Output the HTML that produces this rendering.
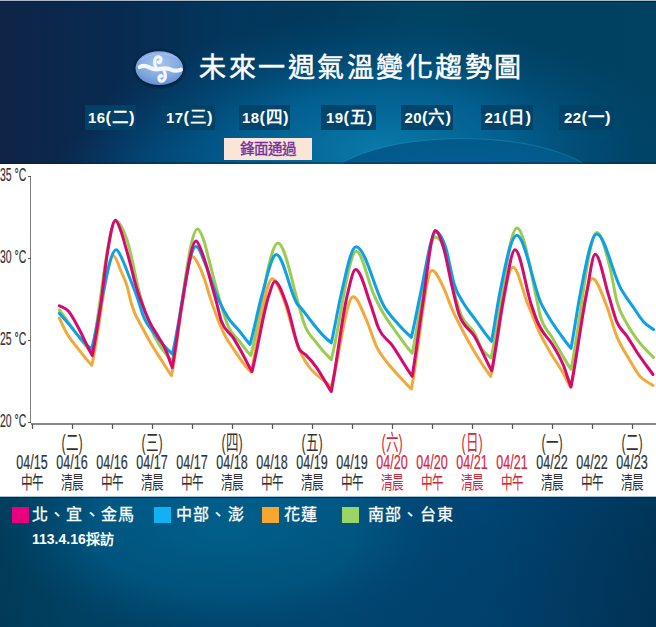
<!DOCTYPE html>
<html lang="zh-TW"><head><meta charset="utf-8">
<style>
html,body{margin:0;padding:0;}
body{width:656px;height:627px;position:relative;overflow:hidden;font-family:"Liberation Sans",sans-serif;background:#063a5e;}
.hdr{position:absolute;left:0;top:0;width:656px;height:164px;}
.topline{position:absolute;left:0;top:0;width:656px;height:1px;background:#a9b9c9;}
.topline2{position:absolute;left:0;top:1px;width:656px;height:1px;background:#0a2036;}
.title{position:absolute;left:199px;top:50px;font-size:27px;line-height:36px;color:#fff;white-space:nowrap;letter-spacing:2.5px;-webkit-text-stroke:0.5px #fff;}
.day{position:absolute;top:105px;height:25px;letter-spacing:0.5px;text-indent:2px;background:rgba(2,66,104,0.92);color:#fff;font-weight:bold;font-size:15px;line-height:25px;text-align:center;white-space:nowrap;}
.front{position:absolute;left:224px;top:138px;width:88px;height:22px;background:#fbe5d6;color:#7030a0;font-size:14.5px;line-height:22px;text-align:center;-webkit-text-stroke:0.35px #7030a0;letter-spacing:0px;}
.chart{position:absolute;left:0;top:164px;width:656px;height:332px;background:#fff;}
.ftr{position:absolute;left:0;top:497px;width:656px;height:130px;}
.leg{position:absolute;top:507px;width:17px;height:16px;}
.legt{position:absolute;top:503px;font-size:16px;line-height:24px;color:#fff;white-space:nowrap;letter-spacing:1.2px;-webkit-text-stroke:0.3px #fff;}
.src{position:absolute;left:32px;top:530px;font-size:14px;line-height:18px;color:#fff;font-weight:bold;white-space:nowrap;}
</style></head><body>
<svg class="hdr" width="656" height="164">
 <defs>
  <linearGradient id="hb" x1="0" y1="0" x2="656" y2="0" gradientUnits="userSpaceOnUse">
   <stop offset="0" stop-color="#0f2447"/><stop offset="0.18" stop-color="#082a50"/><stop offset="0.34" stop-color="#03365c"/><stop offset="0.49" stop-color="#003a5c"/><stop offset="0.64" stop-color="#004464"/><stop offset="0.8" stop-color="#004060"/><stop offset="1" stop-color="#004262"/>
  </linearGradient>
  <radialGradient id="hg" cx="380" cy="150" r="300" gradientUnits="userSpaceOnUse" gradientTransform="translate(380 150) scale(1 0.45) translate(-380 -150)">
   <stop offset="0" stop-color="#0a7aaa" stop-opacity="1"/><stop offset="0.45" stop-color="#036496" stop-opacity="0.85"/><stop offset="1" stop-color="#004a7a" stop-opacity="0"/>
  </radialGradient>
  <radialGradient id="hg2" cx="200" cy="175" r="150" gradientUnits="userSpaceOnUse" gradientTransform="translate(200 175) scale(1 0.5) translate(-200 -175)">
   <stop offset="0" stop-color="#024a80" stop-opacity="0.9"/><stop offset="1" stop-color="#024a80" stop-opacity="0"/>
  </radialGradient>
  <radialGradient id="he" cx="462" cy="189" r="140" gradientUnits="userSpaceOnUse" gradientTransform="translate(462 189) scale(1 0.36) translate(-462 -189)">
   <stop offset="0" stop-color="#02609a"/><stop offset="1" stop-color="#025a8b"/>
  </radialGradient>
 </defs>
 <rect width="656" height="164" fill="url(#hb)"/>
 <rect width="656" height="164" fill="url(#hg2)"/>
 <rect width="656" height="164" fill="url(#hg)"/>
 <ellipse cx="462" cy="189" rx="140" ry="50" fill="none" stroke="#1a88b8" stroke-width="2" opacity="0.5"/>
 <ellipse cx="462" cy="189" rx="140" ry="50" fill="url(#he)"/>
</svg>
<div class="topline"></div><div style="position:absolute;left:0;top:162px;width:656px;height:2px;background:rgba(10,30,50,0.35)"></div><div class="topline2"></div>
<svg style="position:absolute;left:0;top:0" width="656" height="164">
 <defs>
  <radialGradient id="lg" cx="0.5" cy="0.35" r="0.75">
   <stop offset="0" stop-color="#a8c6ee"/><stop offset="0.55" stop-color="#82a9e0"/><stop offset="1" stop-color="#5a87c8"/>
  </radialGradient>
  <radialGradient id="lsh" cx="0.5" cy="0.5" r="0.5">
   <stop offset="0.75" stop-color="#021a34" stop-opacity="1"/><stop offset="1" stop-color="#021c38" stop-opacity="0"/>
  </radialGradient>
 </defs>
 <ellipse cx="159.5" cy="68.8" rx="28" ry="21" fill="url(#lsh)"/>
 <ellipse cx="159.3" cy="68.2" rx="23.8" ry="16.9" fill="url(#lg)"/>
 <path d="M141,60 C148,53 170,52 178,59" stroke="#c8dcf6" stroke-width="1.2" fill="none" opacity="0.35"/>
 <g fill="none" stroke="#f2f6fd" stroke-linecap="round" stroke-linejoin="round">
  <path d="M139.8,67 C142.5,65.6 146,65.8 149,67.3 C152,68.8 155,69.8 158,69.3 L162,68.6 C165,68 168,68.3 171,69.6 C174,70.9 177.5,71 180.8,69.6" stroke-width="4.2"/>
  <path d="M156.5,68.5 C154.5,65.5 154,61 155.5,58.5 C157,56 160.5,56.3 161,59.3 C161.3,61.8 159.3,63 158.2,62" stroke-width="3.3"/>
  <path d="M163.5,69.5 C165.5,72.5 166,77 164.5,79.5 C163,82 159.5,81.7 159,78.7 C158.7,76.2 160.7,75 161.8,76" stroke-width="3.3"/>
 </g>
</svg>
<div class="title">未來一週氣溫變化趨勢圖</div>
<div class="day" style="left:85px;width:51px">16<span style="font-size:16.5px">(二)</span></div>
<div class="day" style="left:162px;width:53px">17<span style="font-size:16.5px">(三)</span></div>
<div class="day" style="left:239px;width:51px">18<span style="font-size:16.5px">(四)</span></div>
<div class="day" style="left:321px;width:55px">19<span style="font-size:16.5px">(五)</span></div>
<div class="day" style="left:401px;width:52px">20<span style="font-size:16.5px">(六)</span></div>
<div class="day" style="left:481px;width:52px">21<span style="font-size:16.5px">(日)</span></div>
<div class="day" style="left:559px;width:55px">22<span style="font-size:16.5px">(一)</span></div>
<div class="front">鋒面通過</div>
<div class="chart"></div>
<svg style="position:absolute;left:0;top:0" width="656" height="627">
 <g stroke="#555" stroke-width="1" fill="none">
  <line x1="30.5" y1="176" x2="30.5" y2="423" stroke="#808080"/>
  <line x1="31" y1="424" x2="656" y2="424" stroke="#8a8a8a" stroke-width="2"/>
  <line x1="28" y1="176.5" x2="31" y2="176.5"/>
  <line x1="28" y1="258.5" x2="31" y2="258.5"/>
  <line x1="28" y1="340.5" x2="31" y2="340.5"/>
  <line x1="28" y1="422.5" x2="31" y2="422.5"/>
 </g>
 <g stroke="#555" stroke-width="1.2">
  <line x1="32.5" y1="424" x2="32.5" y2="429"/><line x1="72.5" y1="424" x2="72.5" y2="429"/><line x1="112.5" y1="424" x2="112.5" y2="429"/><line x1="152.5" y1="424" x2="152.5" y2="429"/><line x1="192.5" y1="424" x2="192.5" y2="429"/><line x1="232.5" y1="424" x2="232.5" y2="429"/><line x1="272.5" y1="424" x2="272.5" y2="429"/><line x1="312.5" y1="424" x2="312.5" y2="429"/><line x1="352.5" y1="424" x2="352.5" y2="429"/><line x1="392.5" y1="424" x2="392.5" y2="429"/><line x1="432.5" y1="424" x2="432.5" y2="429"/><line x1="472.5" y1="424" x2="472.5" y2="429"/><line x1="512.5" y1="424" x2="512.5" y2="429"/><line x1="552.5" y1="424" x2="552.5" y2="429"/><line x1="592.5" y1="424" x2="592.5" y2="429"/><line x1="632.5" y1="424" x2="632.5" y2="429"/>
 </g>
 <g font-size="18" fill="#333" stroke="#333" stroke-width="0.2" font-family="Liberation Sans, sans-serif">
  <text transform="translate(0,181) scale(0.58,1)">35 °C</text>
  <text transform="translate(0,263) scale(0.58,1)">30 °C</text>
  <text transform="translate(0,345) scale(0.58,1)">25 °C</text>
  <text transform="translate(0,427) scale(0.58,1)">20 °C</text>
 </g>
 <g fill="none" stroke-width="3" stroke-linejoin="round" stroke-linecap="round">
  <path d="M59.30,310.00 C70.13,324.33 80.97,340.82 91.80,353.00 C99.87,315.60 107.93,221.00 116.00,221.00 C119.67,221.00 123.33,229.46 127.00,240.00 C131.33,252.46 135.67,279.44 140.00,295.00 C143.33,306.97 146.67,317.20 150.00,326.00 C157.43,345.62 164.87,351.80 172.30,362.00 C180.70,324.32 189.10,229.00 197.50,229.00 C199.50,229.00 201.50,233.87 203.50,239.50 C205.10,244.00 206.70,250.98 208.30,257.10 C209.90,263.22 211.50,270.07 213.10,276.20 C214.90,283.10 216.70,289.77 218.50,296.00 C221.90,307.77 225.30,320.00 228.70,327.40 C232.03,334.65 235.37,336.04 238.70,340.30 C242.73,345.46 246.77,351.27 250.80,355.60 C259.83,323.70 268.87,243.00 277.90,243.00 C284.80,243.00 291.70,281.60 298.60,304.70 C300.40,310.73 302.20,318.13 304.00,323.30 C308.10,335.08 312.20,336.97 316.30,342.60 C321.30,349.46 326.30,354.78 331.30,359.60 C339.67,328.92 348.03,251.30 356.40,251.30 C362.27,251.30 368.13,282.29 374.00,295.00 C376.63,300.71 379.27,306.21 381.90,311.00 C386.17,318.76 390.43,323.95 394.70,330.00 C400.53,338.27 406.37,346.63 412.20,353.20 C419.90,320.25 427.60,236.90 435.30,236.90 C438.53,236.90 441.77,241.27 445.00,250.00 C447.67,257.20 450.33,276.17 453.00,287.00 C455.33,296.48 457.67,305.23 460.00,312.00 C465.00,326.51 470.00,324.01 475.00,334.00 C477.10,338.20 479.20,344.32 481.30,348.00 C484.57,353.72 487.83,355.17 491.10,358.00 C499.73,321.19 508.37,228.10 517.00,228.10 C523.67,228.10 530.33,269.91 537.00,300.70 C538.00,305.32 539.00,311.27 540.00,315.00 C543.90,329.53 547.80,329.82 551.70,336.80 C555.60,343.78 559.50,350.40 563.40,356.90 C565.93,361.12 568.47,365.79 571.00,369.30 C579.60,330.54 588.20,232.50 596.80,232.50 C601.37,232.50 605.93,250.62 610.50,270.00 C612.60,278.91 614.70,292.90 616.80,301.10 C620.23,314.51 623.67,317.49 627.10,324.00 C631.27,331.89 635.43,337.32 639.60,342.70 C644.23,348.69 648.87,352.57 653.50,357.50" stroke="#9acb52"/>
  <path d="M59.30,318.00 C61.53,322.67 63.77,327.90 66.00,332.00 C70.00,339.35 74.00,343.40 78.00,348.60 C82.60,354.58 87.20,360.50 91.80,365.20 C99.03,334.18 106.27,255.70 113.50,255.70 C115.97,255.70 118.43,265.35 120.90,271.00 C123.03,275.89 125.17,279.41 127.30,286.90 C128.63,291.58 129.97,298.64 131.30,303.50 C135.17,317.59 139.03,321.17 142.90,328.80 C145.80,334.52 148.70,339.65 151.60,344.60 C154.93,350.29 158.27,355.23 161.60,360.40 C164.90,365.52 168.20,371.22 171.50,375.50 C178.57,341.87 185.63,256.80 192.70,256.80 C194.70,256.80 196.70,261.17 198.70,265.00 C200.83,269.09 202.97,274.68 205.10,281.00 C206.70,285.74 208.30,291.89 209.90,296.90 C214.73,312.05 219.57,324.86 224.40,334.50 C227.73,341.15 231.07,345.29 234.40,350.30 C237.77,355.36 241.13,360.52 244.50,364.70 C246.67,367.39 248.83,369.93 251.00,372.00 C258.10,345.56 265.20,278.70 272.30,278.70 C275.53,278.70 278.77,287.81 282.00,295.00 C287.67,307.60 293.33,335.67 299.00,349.00 C309.77,374.33 320.53,376.23 331.30,387.00 C338.60,361.42 345.90,296.70 353.20,296.70 C357.47,296.70 361.73,309.60 366.00,319.00 C369.67,327.08 373.33,340.24 377.00,347.60 C380.23,354.09 383.47,357.71 386.70,362.00 C390.40,366.91 394.10,370.62 397.80,374.70 C402.33,379.70 406.87,384.95 411.40,389.00 C418.30,355.40 425.20,270.40 432.10,270.40 C435.87,270.40 439.63,279.62 443.40,287.40 C446.37,293.52 449.33,302.92 452.30,309.70 C456.00,318.15 459.70,324.98 463.40,332.00 C467.13,339.09 470.87,345.76 474.60,352.00 C479.97,360.97 485.33,369.42 490.70,376.30 C498.13,345.39 505.57,267.20 513.00,267.20 C518.00,267.20 523.00,292.80 528.00,304.70 C529.23,307.64 530.47,310.44 531.70,313.40 C533.93,318.76 536.17,325.03 538.40,330.10 C542.27,338.87 546.13,345.10 550.00,351.90 C554.47,359.76 558.93,365.58 563.40,373.60 C565.77,377.85 568.13,383.20 570.50,387.00 C577.77,356.26 585.03,278.50 592.30,278.50 C597.00,278.50 601.70,293.42 606.40,305.30 C609.87,314.06 613.33,327.84 616.80,336.40 C620.93,346.60 625.07,352.23 629.20,359.30 C632.67,365.23 636.13,371.70 639.60,375.90 C644.07,381.31 648.53,382.30 653.00,385.50" stroke="#f2a93b"/>
  <path d="M59.30,313.30 C62.53,317.00 65.77,320.59 69.00,324.40 C72.83,328.91 76.67,334.19 80.50,338.40 C84.17,342.42 87.83,346.14 91.50,349.20 C99.73,321.01 107.97,249.70 116.20,249.70 C118.30,249.70 120.40,255.52 122.50,259.80 C124.63,264.15 126.77,270.29 128.90,275.70 C131.57,282.46 134.23,289.07 136.90,296.50 C139.40,303.46 141.90,312.99 144.40,318.70 C147.27,325.25 150.13,327.66 153.00,331.70 C156.33,336.40 159.67,340.78 163.00,344.60 C166.10,348.15 169.20,351.34 172.30,354.00 C180.20,323.54 188.10,246.50 196.00,246.50 C199.03,246.50 202.07,256.26 205.10,263.40 C207.77,269.67 210.43,278.69 213.10,285.70 C215.23,291.31 217.37,296.94 219.50,301.70 C222.57,308.55 225.63,314.06 228.70,318.70 C232.03,323.74 235.37,326.20 238.70,330.20 C242.47,334.72 246.23,340.38 250.00,344.40 C254.00,330.40 258.00,309.14 262.00,295.00 C266.77,278.16 271.53,254.40 276.30,254.40 C283.47,254.40 290.63,296.23 297.80,304.70 C298.70,305.76 299.60,306.53 300.50,307.50 C304.60,311.93 308.70,318.28 312.80,323.30 C316.30,327.58 319.80,332.04 323.30,335.60 C325.97,338.31 328.63,340.76 331.30,342.80 C334.53,329.26 337.77,308.76 341.00,295.00 C346.00,273.73 351.00,246.80 356.00,246.80 C365.67,246.80 375.33,293.24 385.00,307.80 C389.27,314.23 393.53,318.90 397.80,323.70 C402.33,328.80 406.87,333.45 411.40,337.30 C414.33,325.31 417.27,308.24 420.20,295.00 C425.47,271.23 430.73,232.00 436.00,232.00 C439.20,232.00 442.40,237.78 445.60,247.30 C448.57,256.13 451.53,275.92 454.50,285.20 C457.47,294.48 460.43,297.86 463.40,303.00 C467.13,309.46 470.87,313.47 474.60,318.60 C480.23,326.33 485.87,334.87 491.50,341.30 C494.13,328.18 496.77,308.44 499.40,295.00 C505.17,265.56 510.93,235.30 516.70,235.30 C525.03,235.30 533.37,287.91 541.70,304.70 C545.03,311.42 548.37,316.53 551.70,321.80 C555.60,327.96 559.50,333.26 563.40,338.50 C565.93,341.90 568.47,345.52 571.00,348.30 C574.00,333.20 577.00,310.37 580.00,295.00 C585.60,266.31 591.20,234.00 596.80,234.00 C604.83,234.00 612.87,274.56 620.90,288.70 C625.07,296.03 629.23,301.37 633.40,307.40 C636.83,312.37 640.27,318.18 643.70,321.90 C646.97,325.44 650.23,326.97 653.50,329.50" stroke="#0ea0e4"/>
  <path d="M59.30,305.80 C62.30,307.53 65.30,307.72 68.30,311.00 C71.53,314.54 74.77,321.21 78.00,327.00 C82.77,335.54 87.53,347.50 92.30,355.60 C95.10,341.18 97.90,324.29 100.70,304.70 C102.93,289.07 105.17,266.36 107.40,252.80 C110.07,236.61 112.73,220.20 115.40,220.20 C117.23,220.20 119.07,226.14 120.90,231.10 C122.50,235.43 124.10,241.52 125.70,247.10 C127.30,252.68 128.90,258.50 130.50,264.60 C132.10,270.70 133.70,278.02 135.30,283.70 C137.43,291.28 139.57,296.97 141.70,302.80 C144.50,310.45 147.30,317.28 150.10,323.00 C152.97,328.86 155.83,332.42 158.70,337.40 C161.10,341.57 163.50,344.84 165.90,350.30 C168.03,355.15 170.17,362.70 172.30,367.60 C175.50,349.78 178.70,323.04 181.90,304.70 C186.60,277.76 191.30,240.90 196.00,240.90 C197.97,240.90 199.93,247.36 201.90,252.30 C203.50,256.32 205.10,261.28 206.70,266.60 C208.30,271.92 209.90,278.35 211.50,284.20 C213.10,290.05 214.70,295.73 216.30,301.70 C218.03,308.17 219.77,316.84 221.50,321.60 C225.33,332.13 229.17,331.40 233.00,337.40 C236.33,342.61 239.67,348.67 243.00,354.70 C246.00,360.12 249.00,366.81 252.00,371.60 C257.67,349.90 263.33,311.39 269.00,295.00 C270.90,289.51 272.80,281.60 274.70,281.60 C278.70,281.60 282.70,293.93 286.70,304.70 C290.93,316.10 295.17,341.72 299.40,349.20 C301.53,352.97 303.67,352.77 305.80,354.90 C309.30,358.39 312.80,362.26 316.30,367.20 C319.20,371.29 322.10,376.49 325.00,381.20 C327.10,384.61 329.20,388.58 331.30,391.50 C336.63,364.16 341.97,316.73 347.30,295.00 C350.07,283.73 352.83,269.60 355.60,269.60 C360.63,269.60 365.67,290.86 370.70,304.70 C373.37,312.03 376.03,322.34 378.70,328.50 C382.97,338.35 387.23,338.61 391.50,344.40 C398.40,353.76 405.30,367.26 412.20,376.30 C415.67,356.01 419.13,326.94 422.60,304.70 C426.83,277.54 431.07,230.50 435.30,230.50 C438.00,230.50 440.70,238.57 443.40,247.30 C446.37,256.89 449.33,274.89 452.30,287.40 C454.53,296.82 456.77,307.81 459.00,314.20 C464.20,329.07 469.40,327.67 474.60,336.50 C480.33,346.24 486.07,361.08 491.80,370.80 C495.93,349.32 500.07,316.03 504.20,295.00 C507.80,276.68 511.40,249.70 515.00,249.70 C520.43,249.70 525.87,288.50 531.30,304.70 C533.10,310.07 534.90,315.76 536.70,320.10 C538.37,324.12 540.03,327.13 541.70,330.10 C545.03,336.03 548.37,338.23 551.70,343.50 C555.60,349.67 559.50,355.69 563.40,365.30 C565.93,371.54 568.47,380.85 571.00,387.00 C576.10,360.93 581.20,321.02 586.30,295.00 C589.27,279.86 592.23,254.30 595.20,254.30 C599.63,254.30 604.07,280.82 608.50,294.90 C611.27,303.69 614.03,315.18 616.80,321.90 C620.23,330.24 623.67,331.24 627.10,336.40 C630.57,341.61 634.03,347.76 637.50,353.00 C642.67,360.81 647.83,367.33 653.00,374.50" stroke="#d40a6c"/>
 </g>
 <text transform="translate(32,468.5) scale(0.645,1)" text-anchor="middle" font-size="19.5" fill="#333333" stroke="#333333" stroke-width="0.2">04/15</text><text transform="translate(32,488.5) scale(0.63,1)" text-anchor="middle" font-size="18.5" fill="#333333" stroke="#333333" stroke-width="0.05">中午</text><text transform="translate(72,450) scale(0.58,1)" text-anchor="middle" font-size="21.5" fill="#333333" stroke="#333333" stroke-width="0">(二)</text><text transform="translate(72,468.5) scale(0.645,1)" text-anchor="middle" font-size="19.5" fill="#333333" stroke="#333333" stroke-width="0.2">04/16</text><text transform="translate(72,488.5) scale(0.63,1)" text-anchor="middle" font-size="18.5" fill="#333333" stroke="#333333" stroke-width="0.05">清晨</text><text transform="translate(112,468.5) scale(0.645,1)" text-anchor="middle" font-size="19.5" fill="#333333" stroke="#333333" stroke-width="0.2">04/16</text><text transform="translate(112,488.5) scale(0.63,1)" text-anchor="middle" font-size="18.5" fill="#333333" stroke="#333333" stroke-width="0.05">中午</text><text transform="translate(152,450) scale(0.58,1)" text-anchor="middle" font-size="21.5" fill="#333333" stroke="#333333" stroke-width="0">(三)</text><text transform="translate(152,468.5) scale(0.645,1)" text-anchor="middle" font-size="19.5" fill="#333333" stroke="#333333" stroke-width="0.2">04/17</text><text transform="translate(152,488.5) scale(0.63,1)" text-anchor="middle" font-size="18.5" fill="#333333" stroke="#333333" stroke-width="0.05">清晨</text><text transform="translate(192,468.5) scale(0.645,1)" text-anchor="middle" font-size="19.5" fill="#333333" stroke="#333333" stroke-width="0.2">04/17</text><text transform="translate(192,488.5) scale(0.63,1)" text-anchor="middle" font-size="18.5" fill="#333333" stroke="#333333" stroke-width="0.05">中午</text><text transform="translate(232,450) scale(0.58,1)" text-anchor="middle" font-size="21.5" fill="#333333" stroke="#333333" stroke-width="0">(四)</text><text transform="translate(232,468.5) scale(0.645,1)" text-anchor="middle" font-size="19.5" fill="#333333" stroke="#333333" stroke-width="0.2">04/18</text><text transform="translate(232,488.5) scale(0.63,1)" text-anchor="middle" font-size="18.5" fill="#333333" stroke="#333333" stroke-width="0.05">清晨</text><text transform="translate(272,468.5) scale(0.645,1)" text-anchor="middle" font-size="19.5" fill="#333333" stroke="#333333" stroke-width="0.2">04/18</text><text transform="translate(272,488.5) scale(0.63,1)" text-anchor="middle" font-size="18.5" fill="#333333" stroke="#333333" stroke-width="0.05">中午</text><text transform="translate(312,450) scale(0.58,1)" text-anchor="middle" font-size="21.5" fill="#333333" stroke="#333333" stroke-width="0">(五)</text><text transform="translate(312,468.5) scale(0.645,1)" text-anchor="middle" font-size="19.5" fill="#333333" stroke="#333333" stroke-width="0.2">04/19</text><text transform="translate(312,488.5) scale(0.63,1)" text-anchor="middle" font-size="18.5" fill="#333333" stroke="#333333" stroke-width="0.05">清晨</text><text transform="translate(352,468.5) scale(0.645,1)" text-anchor="middle" font-size="19.5" fill="#333333" stroke="#333333" stroke-width="0.2">04/19</text><text transform="translate(352,488.5) scale(0.63,1)" text-anchor="middle" font-size="18.5" fill="#333333" stroke="#333333" stroke-width="0.05">中午</text><text transform="translate(392,450) scale(0.58,1)" text-anchor="middle" font-size="21.5" fill="#d2283a" stroke="#d2283a" stroke-width="0">(六)</text><text transform="translate(392,468.5) scale(0.645,1)" text-anchor="middle" font-size="19.5" fill="#d2283a" stroke="#d2283a" stroke-width="0.2">04/20</text><text transform="translate(392,488.5) scale(0.63,1)" text-anchor="middle" font-size="18.5" fill="#d2283a" stroke="#d2283a" stroke-width="0.05">清晨</text><text transform="translate(432,468.5) scale(0.645,1)" text-anchor="middle" font-size="19.5" fill="#d2283a" stroke="#d2283a" stroke-width="0.2">04/20</text><text transform="translate(432,488.5) scale(0.63,1)" text-anchor="middle" font-size="18.5" fill="#d2283a" stroke="#d2283a" stroke-width="0.05">中午</text><text transform="translate(472,450) scale(0.58,1)" text-anchor="middle" font-size="21.5" fill="#d2283a" stroke="#d2283a" stroke-width="0">(日)</text><text transform="translate(472,468.5) scale(0.645,1)" text-anchor="middle" font-size="19.5" fill="#d2283a" stroke="#d2283a" stroke-width="0.2">04/21</text><text transform="translate(472,488.5) scale(0.63,1)" text-anchor="middle" font-size="18.5" fill="#d2283a" stroke="#d2283a" stroke-width="0.05">清晨</text><text transform="translate(512,468.5) scale(0.645,1)" text-anchor="middle" font-size="19.5" fill="#d2283a" stroke="#d2283a" stroke-width="0.2">04/21</text><text transform="translate(512,488.5) scale(0.63,1)" text-anchor="middle" font-size="18.5" fill="#d2283a" stroke="#d2283a" stroke-width="0.05">中午</text><text transform="translate(552,450) scale(0.58,1)" text-anchor="middle" font-size="21.5" fill="#333333" stroke="#333333" stroke-width="0">(一)</text><text transform="translate(552,468.5) scale(0.645,1)" text-anchor="middle" font-size="19.5" fill="#333333" stroke="#333333" stroke-width="0.2">04/22</text><text transform="translate(552,488.5) scale(0.63,1)" text-anchor="middle" font-size="18.5" fill="#333333" stroke="#333333" stroke-width="0.05">清晨</text><text transform="translate(592,468.5) scale(0.645,1)" text-anchor="middle" font-size="19.5" fill="#333333" stroke="#333333" stroke-width="0.2">04/22</text><text transform="translate(592,488.5) scale(0.63,1)" text-anchor="middle" font-size="18.5" fill="#333333" stroke="#333333" stroke-width="0.05">中午</text><text transform="translate(632,450) scale(0.58,1)" text-anchor="middle" font-size="21.5" fill="#333333" stroke="#333333" stroke-width="0">(二)</text><text transform="translate(632,468.5) scale(0.645,1)" text-anchor="middle" font-size="19.5" fill="#333333" stroke="#333333" stroke-width="0.2">04/23</text><text transform="translate(632,488.5) scale(0.63,1)" text-anchor="middle" font-size="18.5" fill="#333333" stroke="#333333" stroke-width="0.05">清晨</text>
</svg>
<svg class="ftr" width="656" height="130">
 <defs>
  <linearGradient id="fb" x1="0" y1="0" x2="656" y2="0" gradientUnits="userSpaceOnUse">
   <stop offset="0" stop-color="#003f5e"/><stop offset="0.12" stop-color="#004668"/><stop offset="0.5" stop-color="#004c7a"/><stop offset="0.75" stop-color="#004574"/><stop offset="1" stop-color="#00365a"/>
  </linearGradient>
  <linearGradient id="fv" x1="0" y1="0" x2="0" y2="130" gradientUnits="userSpaceOnUse">
   <stop offset="0" stop-color="#000" stop-opacity="0"/><stop offset="1" stop-color="#001830" stop-opacity="0.12"/>
  </linearGradient>
  <radialGradient id="fg" cx="225" cy="35" r="220" gradientUnits="userSpaceOnUse" gradientTransform="translate(225 35) scale(1 0.5) translate(-225 -35)">
   <stop offset="0" stop-color="#00628e" stop-opacity="1"/><stop offset="0.6" stop-color="#005a86" stop-opacity="0.9"/><stop offset="1" stop-color="#004c7a" stop-opacity="0"/>
  </radialGradient>
 </defs>
 <rect width="656" height="130" fill="url(#fb)"/>
 <rect width="656" height="130" fill="url(#fg)"/>
 <rect width="656" height="130" fill="url(#fv)"/>
</svg>
<div style="position:absolute;left:0;top:496px;width:656px;height:1px;background:#a8c2d6"></div><div style="position:absolute;left:0;top:497px;width:656px;height:1px;background:#022c4c"></div>
<div class="leg" style="left:12px;background:#e8007f"></div>
<div class="legt" style="left:32px">北、宜、金馬</div>
<div class="leg" style="left:154px;background:#12b2f2"></div>
<div class="legt" style="left:176px">中部、澎</div>
<div class="leg" style="left:262px;background:#f7a731"></div>
<div class="legt" style="left:284px">花蓮</div>
<div class="leg" style="left:342px;background:#9ad566"></div>
<div class="legt" style="left:368px">南部、台東</div>
<div class="src">113.4.16採訪</div>
</body></html>
